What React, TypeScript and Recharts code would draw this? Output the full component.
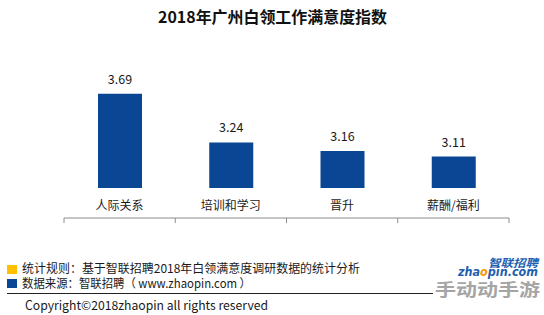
import React from 'react';
import { BarChart, Bar, XAxis, YAxis, LabelList } from 'recharts';

const categories = ['人际关系', '培训和学习', '晋升', '薪酬/福利'];
const scores = [3.69, 3.24, 3.16, 3.11];
const title = '2018年广州白领工作满意度指数';
const noteRule = '统计规则：基于智联招聘2018年白领满意度调研数据的统计分析';
const noteSource = '数据来源：智联招聘（ www.zhaopin.com ）';
const copyright = 'Copyright©2018zhaopin all rights reserved';

const data = categories.map((name, i) => ({ name, value: scores[i] }));
const edgeTicks = Array.from({ length: categories.length + 1 }, (_, i) => i);

const FONT = '"Noto Sans CJK SC", "Noto Sans", sans-serif';

export default function App() {
  return (
    <div style={{ position: 'absolute', left: 0, top: 0, width: 544, height: 315, background: '#fff', fontFamily: FONT }}>
      <BarChart
        width={544}
        height={315}
        data={data}
        margin={{ top: 60, right: 35, left: 64, bottom: 96 }}
      >
        <XAxis
          xAxisId="edges"
          type="number"
          dataKey="value"
          domain={[0, categories.length]}
          ticks={edgeTicks}
          allowDataOverflow
          height={1}
          tickFormatter={() => ''}
          tickSize={5}
          stroke="#8c8c8c"
          axisLine={{ stroke: '#8c8c8c' }}
          tickLine={{ stroke: '#8c8c8c' }}
        />
        <XAxis
          xAxisId="cat"
          dataKey="name"
          height={30}
          axisLine={false}
          tickLine={false}
          interval={0}
          tickMargin={7}
          tick={{ fontSize: 12, fill: '#1a1a1a', fontFamily: FONT }}
        />
        <YAxis hide domain={[2.82, 4.0]} allowDataOverflow />
        <Bar xAxisId="cat" dataKey="value" fill="#0a4694" barSize={44} isAnimationActive={false}>
          <LabelList dataKey="value" position="top" offset={10} fill="#1a1a1a" fontSize={12.5} fontFamily={FONT} formatter={(v: number) => v.toFixed(2)} />
        </Bar>
      </BarChart>
      <svg width={544} height={315} style={{ position: 'absolute', left: 0, top: 0, pointerEvents: 'none' }}>
        <text x={158} y={16} dominantBaseline="central" fontSize={16} fontWeight="bold" fill="#111" fontFamily={FONT} textLength={229} lengthAdjust="spacingAndGlyphs">{title}</text>
        <rect x={7} y={265} width={10} height={9} fill="#ffc000" />
        <rect x={7} y={279} width={10} height={9} fill="#0a4694" />
        <text x={22} y={267} dominantBaseline="central" fontSize={12} fill="#1a1a1a" fontFamily={FONT} textLength={338} lengthAdjust="spacingAndGlyphs">{noteRule}</text>
        <text x={22} y={282.5} dominantBaseline="central" fontSize={12} fill="#1a1a1a" fontFamily={FONT} textLength={229} lengthAdjust="spacingAndGlyphs">{noteSource}</text>
        <line x1={7} y1={293.5} x2={433} y2={293.5} stroke="#222" strokeWidth={1} />
        <text x={25} y={304} dominantBaseline="central" fontSize={12.5} fill="#1a1a1a" fontFamily={FONT} textLength={243} lengthAdjust="spacingAndGlyphs">{copyright}</text>
        <text x={488} y={261.5} dominantBaseline="central" fontSize={11} fontWeight="bold" fontStyle="italic" fill="#1f5fb0" fontFamily={FONT} textLength={50} lengthAdjust="spacingAndGlyphs">智联招聘</text>
        <text x={458} y={272} dominantBaseline="central" fontSize={12} fontWeight="bold" fontStyle="italic" fill="#1f5fb0" fontFamily={'"DejaVu Sans", sans-serif'} textLength={80} lengthAdjust="spacingAndGlyphs">
          zha<tspan fill="#f39800">o</tspan>pin.com
        </text>
        <text x={435} y={288.5} dominantBaseline="central" fontSize={17} fontWeight="bold" fill="#a5a5a5" fontFamily={FONT} textLength={105} lengthAdjust="spacingAndGlyphs">手动动手游</text>
      </svg>
    </div>
  );
}
